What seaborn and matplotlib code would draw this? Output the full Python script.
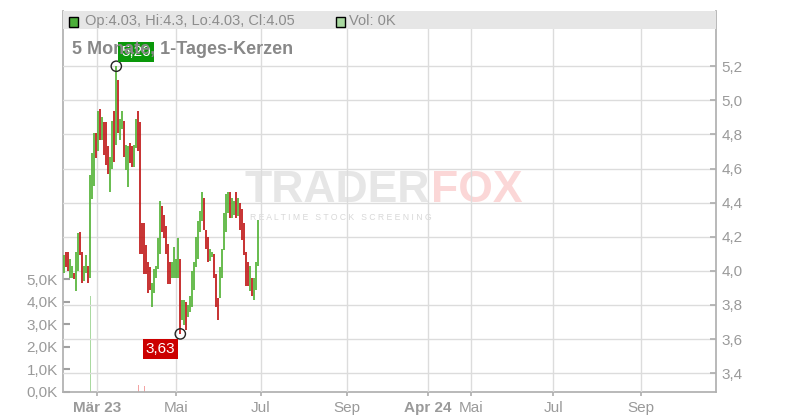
import numpy as np
import pandas as pd
import matplotlib
matplotlib.use("Agg")
import matplotlib.pyplot as plt
import seaborn as sns
from matplotlib.patches import Rectangle
from matplotlib.ticker import FuncFormatter

# -------------------------------------------
# Data (daily candles, Feb - Jun 2023)
# -------------------------------------------
highs = [4.09, 4.11, 4.11, 4.07, 4.03, 3.99, 4.11, 4.22, 4.23, 4.11, 4.03, 4.09, 4.03,
         4.56, 4.69, 4.81, 4.81, 4.94, 4.95, 4.90, 4.87, 4.87, 4.73, 4.67, 4.88, 4.94, 5.20,
         5.12, 4.89, 4.94, 4.88, 4.74, 4.73, 4.75, 4.73, 4.74, 4.89, 4.94, 4.87,
         4.28, 4.28, 4.15, 4.05, 4.02, 3.93, 4.01, 4.03, 4.19, 4.41, 4.38, 4.33, 4.26, 4.16,
         4.05, 4.05, 4.14, 4.07, 4.19, 4.07,
         3.83, 3.83, 3.82, 3.80, 3.85, 4.00, 4.05, 4.20, 4.29, 4.35, 4.46, 4.43, 4.24, 4.20,
         4.13, 4.11, 4.10, 3.98, 3.84, 4.02, 4.13, 4.34, 4.45, 4.46, 4.46, 4.43, 4.41, 4.46,
         4.43, 4.40, 4.36, 4.28, 4.11, 4.05, 4.03, 3.96, 3.96, 4.05, 4.30]
lows = [3.99, 4.02, 4.00, 3.96, 3.96, 3.95, 3.88, 4.00, 4.09, 3.93, 3.94, 3.99, 3.93,
        3.96, 4.42, 4.50, 4.66, 4.70, 4.77, 4.77, 4.68, 4.62, 4.57, 4.46, 4.60, 4.64, 4.74,
        4.81, 4.77, 4.83, 4.67, 4.59, 4.49, 4.63, 4.61, 4.61, 4.72, 4.70, 4.10,
        4.10, 3.98, 3.98, 3.87, 3.89, 3.79, 3.87, 3.96, 4.01, 4.10, 4.23, 4.19, 4.10, 3.92,
        3.92, 3.96, 3.96, 3.96, 3.96, 3.63,
        3.71, 3.68, 3.65, 3.73, 3.76, 3.79, 3.89, 4.02, 4.07, 4.23, 4.29, 4.24, 4.13, 4.05,
        4.06, 4.08, 3.96, 3.79, 3.71, 3.84, 3.96, 4.12, 4.23, 4.34, 4.31, 4.31, 4.33, 4.31,
        4.32, 4.24, 4.18, 4.09, 3.91, 3.91, 3.88, 3.85, 3.83, 3.89, 4.03]
# 1 = rising candle (green), 0 = falling candle (red)
up = [1, 0, 0, 1, 1, 0, 1, 1, 0, 0, 1, 1, 0,
      1, 1, 1, 0, 1, 0, 1, 0, 0, 0, 1, 1, 0, 1, 0, 1, 1, 0, 1, 1, 0, 0, 1, 1, 0, 0,
      0, 0, 0, 0, 0, 1, 1, 1, 1, 1, 0, 0, 0, 0, 0, 1, 1, 1, 1, 0,
      1, 1, 0, 1, 1, 1, 1, 1, 1, 1, 1, 0, 0, 0, 1, 1, 0, 0, 0, 1, 1, 1, 1, 1, 0, 1, 1,
      0, 1, 0, 0, 0, 0, 0, 1, 0, 1, 1, 1]
volumes = [0, 0, 0, 0, 0, 0, 0, 0, 0, 0, 0, 0, 0, 4250,
           0, 0, 0, 0, 0, 0, 0, 0, 0, 0, 0, 0, 0, 0,
           0, 0, 0, 0, 0, 0, 0, 0, 0, 300, 0, 0, 270, 0,
           0, 0, 0, 0, 0, 0, 0, 0, 0, 0, 0, 0, 0, 0,
           0, 0, 0, 0, 0, 0, 0, 0, 0, 0, 0, 0, 0, 0,
           0, 0, 0, 0, 0, 0, 0, 0, 0, 0, 0, 0, 0, 0,
           0, 0, 0, 0, 0, 0, 0, 0, 0, 0, 0, 0, 0, 0]

tick_pos = [16.4, 55.9, 98.1, 141.1, 181.9, 203.2, 244.5, 288.4]
tick_labels = ["Mär 23", "Mai", "Jul", "Sep", "Apr 24", "Mai", "Jul", "Sep"]
bold_labels = ["Mär 23", "Apr 24"]
price_ticks = [3.4, 3.6, 3.8, 4.0, 4.2, 4.4, 4.6, 4.8, 5.0, 5.2]
vol_ticks = [0, 1000, 2000, 3000, 4000, 5000]
header_vals = {"Op": 4.03, "Hi": 4.3, "Lo": 4.03, "Cl": 4.05}
last_vol = 0
title = "5 Monate, 1-Tages-Kerzen"

GREEN = "#55b338"
RED = "#c01818"
TXT = "#9a9a9a"

# -------------------------------------------
# Build dataframes
# -------------------------------------------
df = pd.DataFrame({
    "idx": np.arange(len(highs)),
    "high": highs,
    "low": lows,
    "dir": ["up" if u else "down" for u in up],
    "vol": volumes,
})
df_long = df.melt(id_vars=["idx", "dir"], value_vars=["low", "high"], value_name="price")
vol_colors = df["dir"].map({"up": "#a9d9a0", "down": "#f3a3a3"})

# -------------------------------------------
# Figure
# -------------------------------------------
sns.set_theme(style="white")
plt.rcParams["font.family"] = ["Liberation Sans", "DejaVu Sans"]

W, H = 800, 420
fig = plt.figure(figsize=(8, 4.2), dpi=100)
ax_vol = fig.add_axes([63.3 / W, 28.3 / H, 652.7 / W, 380.7 / H])
ax_price = ax_vol.twinx()

# volume bars (left scale)
ax_vol.bar(df["idx"], df["vol"], width=0.65, color=vol_colors, linewidth=0)
ax_vol.set_ylim(0, 16960)
ax_vol.set_yticks(vol_ticks)
ax_vol.yaxis.set_major_formatter(FuncFormatter(lambda v, p: f"{v / 1000:.1f}K".replace(".", ",")))

# candles as high-low bars (right scale)
sns.lineplot(data=df_long, x="idx", y="price", hue="dir", units="idx", estimator=None,
             palette={"up": GREEN, "down": RED}, linewidth=1.25, sort=False, legend=False,
             solid_capstyle="butt", ax=ax_price, zorder=3)
ax_price.set_ylim(3.291, 5.524)
ax_price.set_yticks(price_ticks)
ax_price.yaxis.set_major_formatter(FuncFormatter(lambda v, p: f"{v:.1f}".replace(".", ",")))

for a in (ax_vol, ax_price):
    a.set_xlim(-0.5, 325.85)
    a.set_xlabel("")
    a.set_ylabel("")

ax_vol.set_xticks(tick_pos)
ax_vol.set_xticklabels(tick_labels)
for lab in ax_vol.get_xticklabels():
    if lab.get_text() in bold_labels:
        lab.set_fontweight("bold")

# grid on the price axes
ax_price.xaxis.set_visible(True)
ax_price.set_xticks(tick_pos)
ax_price.tick_params(axis="x", bottom=False, top=False, labelbottom=False, labeltop=False)
ax_price.set_axisbelow(True)
ax_price.grid(True, color="#dcdcdc", linewidth=1)
ax_vol.grid(False)

# spines and ticks
for s in ["top", "right"]:
    ax_vol.spines[s].set_visible(False)
for s in ["top", "left", "bottom"]:
    ax_price.spines[s].set_visible(False)
for s in ["left", "bottom"]:
    ax_vol.spines[s].set_color("#b0b0b0")
ax_price.spines["right"].set_color("#b0b0b0")

ax_vol.tick_params(axis="y", direction="in", length=5, width=1.5, color="#a0a0a0",
                   labelsize=11, labelcolor=TXT, pad=4, left=True)
ax_vol.tick_params(axis="x", direction="out", length=3, color="#b0b0b0",
                   labelsize=11, labelcolor=TXT, pad=4, bottom=True)
ax_price.tick_params(axis="y", direction="in", length=4, color="#b0b0b0",
                     labelsize=11, labelcolor=TXT, pad=4, right=True)

# watermark
ax_price.text(430 / W, 1 - 191 / H, "TRADER", transform=fig.transFigure, ha="right", va="center",
              fontsize=32, fontweight="bold", color="#e6e6e6", zorder=0.1)
ax_price.text(431 / W, 1 - 191 / H, "FOX", transform=fig.transFigure, ha="left", va="center",
              fontsize=32, fontweight="bold", color="#fbd7d7", zorder=0.1)
ax_price.text(250 / W, 1 - 217 / H, "R E A L T I M E   S T O C K   S C R E E N I N G",
              transform=fig.transFigure, ha="left", va="center", fontsize=6.2,
              color="#d8d8d8", zorder=0.1)

# high / low markers
i_hi = int(np.argmax(highs))
i_lo = int(np.argmin(lows))
ax_price.scatter([i_hi, i_lo], [highs[i_hi], lows[i_lo]], s=55, facecolors="none",
                 edgecolors="#222222", linewidths=1, zorder=6)
ax_price.annotate(f"{highs[i_hi]:.2f}".replace(".", ","), xy=(i_hi, highs[i_hi]),
                  xytext=(5, 7), textcoords="offset pixels", ha="left", va="bottom",
                  color="white", fontsize=11, zorder=6,
                  bbox=dict(boxstyle="square,pad=0.2", fc="#0a980a", ec="none"))
ax_price.annotate(f"{lows[i_lo]:.2f}".replace(".", ","), xy=(i_lo, lows[i_lo]),
                  xytext=(-5, -8), textcoords="offset pixels", ha="right", va="top",
                  color="white", fontsize=11, zorder=6,
                  bbox=dict(boxstyle="square,pad=0.2", fc="#cc0000", ec="none"))

# header bar
fig.add_artist(Rectangle((63.3 / W, 1 - 29.3 / H), 652.7 / W, 18.3 / H, transform=fig.transFigure,
                         fc="#e6e6e6", ec="none", zorder=1))
fig.add_artist(Rectangle((68.5 / W, 1 - 26.5 / H), 9 / W, 9 / H, transform=fig.transFigure,
                         fc="#4caf3a", ec="black", lw=1, zorder=2))
fig.add_artist(Rectangle((336 / W, 1 - 26.5 / H), 9 / W, 9 / H, transform=fig.transFigure,
                         fc="#a9d9a0", ec="black", lw=1, zorder=2))
header = ", ".join(f"{k}:{v:g}" for k, v in header_vals.items())
fig.text(85 / W, 1 - 21 / H, header, ha="left", va="center", fontsize=10.5, color="#8c8c8c", zorder=3)
fig.text(349 / W, 1 - 21 / H, f"Vol: {last_vol / 1000:.0f}K", ha="left", va="center",
         fontsize=10.5, color="#8c8c8c", zorder=3)

# title (drawn over the high label, as in the source chart)
fig.text(72 / W, 1 - 54.3 / H, title, ha="left", va="baseline", fontsize=13,
         fontweight="bold", color="#888888", zorder=4)

fig.savefig("out.png", dpi=100)
